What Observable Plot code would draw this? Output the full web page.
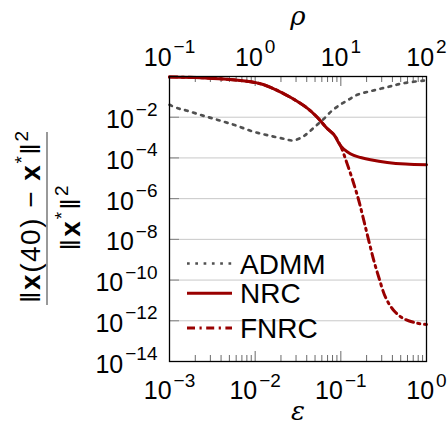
<!DOCTYPE html>
<html><head><meta charset="utf-8">
<script src="https://cdn.jsdelivr.net/npm/d3@7"></script>
<script src="https://cdn.jsdelivr.net/npm/@observablehq/plot@0.6"></script>
<style>
html,body{margin:0;padding:0;background:#fff;}
#chart{width:448px;height:426px;}
</style></head><body><div id="chart"></div>
<script>
// ---- data ----
const epsTicks = [1e-3, 1e-2, 1e-1, 1e0];
const epsTickLabels = ["10^-3", "10^-2", "10^-1", "10^0"];
const rhoTicks = [1e-1, 1e0, 1e1, 1e2];
const rhoTickLabels = ["10^-1", "10^0", "10^1", "10^2"];
const rhoPerEps = 100; // rho = 100 * eps (top axis)
const yTicks = [1e-2, 1e-4, 1e-6, 1e-8, 1e-10, 1e-12, 1e-14];
const yTickLabels = ["10^-2", "10^-4", "10^-6", "10^-8", "10^-10", "10^-12", "10^-14"];
const seriesNames = ["ADMM", "NRC", "FNRC"];

const admmEps = [1e-3, 1.25e-3, 1.57e-3, 2.45e-3, 3.84e-3, 6.0e-3, 9.2e-3, 1.44e-2, 2.16e-2, 2.75e-2, 3.54e-2, 4.23e-2, 5.06e-2, 6.32e-2, 7.93e-2, 9.9e-2, 0.124, 0.155, 0.222, 0.348, 0.543, 1.0];
const admmErr = [4.07e-2, 2.75e-2, 2.14e-2, 1.20e-2, 6.9e-3, 3.9e-3, 2.04e-3, 1.26e-3, 8.7e-4, 7.2e-4, 1.05e-3, 1.86e-3, 3.6e-3, 8.3e-3, 2.14e-2, 4.2e-2, 7.4e-2, 0.126, 0.19, 0.30, 0.47, 0.65];

const nrcEps = [1e-3, 2.3e-3, 6.75e-3, 1.15e-2, 1.65e-2, 2.58e-2, 4.05e-2, 5.3e-2, 6.93e-2, 8.28e-2, 9.9e-2, 0.1186, 0.1416, 0.17, 0.222, 0.348, 0.569, 1.0];
const nrcErr = [0.955, 0.87, 0.63, 0.44, 0.25, 0.0955, 2.8e-2, 1.0e-2, 2.8e-3, 1.41e-3, 4.0e-4, 2.0e-4, 1.32e-4, 1.05e-4, 8.1e-5, 6.0e-5, 5.0e-5, 4.6e-5];

const fnrcEps = [1e-3, 2.3e-3, 6.75e-3, 1.15e-2, 1.65e-2, 2.58e-2, 4.05e-2, 5.3e-2, 6.93e-2, 8.28e-2, 9.9e-2, 0.1186, 0.1416, 0.162, 0.1854, 0.2118, 0.2427, 0.2773, 0.3319, 0.415, 0.543, 0.778, 1.0];
const fnrcErr = [0.955, 0.87, 0.63, 0.44, 0.25, 0.0955, 2.8e-2, 1.0e-2, 2.8e-3, 1.41e-3, 4.0e-4, 5.1e-5, 5.4e-6, 8.1e-7, 8.5e-8, 8.7e-9, 9.1e-10, 1.38e-10, 1.45e-11, 3.2e-12, 1.26e-12, 7.6e-13, 6.6e-13];

// ---- build ----
const toRows = (xs, ys) => xs.map((x, i) => ({x, y: ys[i]}));
const admm = toRows(admmEps, admmErr);
const nrc = toRows(nrcEps, nrcErr);
const fnrc = toRows(fnrcEps, fnrcErr);

const W = 448, H = 426, mL = 169, mR = 22, mT = 76, mB = 65;
const pw = W - mL - mR, ph = H - mT - mB;
const FONT = "'Liberation Sans', Arial, sans-serif";
const fs = 25;
const RED = "#990000", GRAY = "#505050";
const styles = {
  ADMM: {stroke: GRAY, strokeWidth: 2.7, dash: "2.7,5.6"},
  NRC: {stroke: RED, strokeWidth: 3, dash: null},
  FNRC: {stroke: RED, strokeWidth: 3, dash: "8,4.5,2.2,4.5"}
};

const minorTicks = epsTicks.slice(0, 3).flatMap(d => [2, 3, 4, 5, 6, 7, 8, 9].map(k => k * d));
const epsLabel = new Map(epsTicks.map((d, i) => [d, epsTickLabels[i]]));
const rhoPos = rhoTicks.map(r => r / rhoPerEps);
const rhoLabel = new Map(rhoPos.map((d, i) => [d, rhoTickLabels[i]]));
const yLabel = new Map(yTicks.map((d, i) => [d, yTickLabels[i]]));

const svg = Plot.plot({
  width: W, height: H,
  marginLeft: mL, marginRight: mR, marginTop: mT, marginBottom: mB,
  style: {fontFamily: FONT, fontSize: fs + "px", background: "white", color: "black"},
  x: {type: "log", domain: [1e-3, 1]},
  y: {type: "log", domain: [1e-14, 1]},
  marks: [
    Plot.ruleY(yTicks, {stroke: "#c8c8c8", strokeWidth: 1}),
    Plot.ruleY(yTicks, {stroke: "#808080", strokeWidth: 1, insetRight: pw - 10}),
    Plot.ruleX(epsTicks, {stroke: "#6a6a6a", strokeWidth: 1, insetTop: ph - 10}),
    Plot.ruleX(epsTicks, {stroke: "#6a6a6a", strokeWidth: 1, insetBottom: ph - 10}),
    Plot.ruleX(minorTicks, {stroke: "#6a6a6a", strokeWidth: 1, insetTop: ph - 6}),
    Plot.ruleX(minorTicks, {stroke: "#6a6a6a", strokeWidth: 1, insetBottom: ph - 6}),
    Plot.line(admm, {x: "x", y: "y", stroke: styles.ADMM.stroke, strokeWidth: styles.ADMM.strokeWidth, strokeDasharray: styles.ADMM.dash, curve: "catmull-rom"}),
    Plot.line(fnrc, {x: "x", y: "y", stroke: styles.FNRC.stroke, strokeWidth: styles.FNRC.strokeWidth, strokeDasharray: styles.FNRC.dash, curve: "catmull-rom"}),
    Plot.line(nrc, {x: "x", y: "y", stroke: styles.NRC.stroke, strokeWidth: styles.NRC.strokeWidth, curve: "catmull-rom"}),
    Plot.frame({stroke: "black", strokeWidth: 1.3}),
    Plot.axisX(epsTicks, {anchor: "bottom", tickSize: 0, tickPadding: 20, tickFormat: d => epsLabel.get(d), label: null, fontSize: fs}),
    Plot.axisX(rhoPos, {anchor: "top", tickSize: 0, tickPadding: 11, tickFormat: d => rhoLabel.get(d), label: null, fontSize: fs}),
    Plot.axisY(yTicks, {anchor: "left", tickSize: 0, tickPadding: 12, tickFormat: d => yLabel.get(d), label: null, fontSize: fs, dy: 3}),
    Plot.text(["ε"], {text: d => d, frameAnchor: "bottom", dy: 58, fontStyle: "italic", fontSize: 26, fontFamily: "'DejaVu Serif', serif"}),
    Plot.text(["ρ"], {text: d => d, frameAnchor: "top", dy: -70, fontStyle: "italic", fontSize: 26, fontFamily: "'DejaVu Serif', serif"})
  ]
});
document.getElementById("chart").appendChild(svg);

// superscript exponents in tick labels
d3.select(svg).selectAll("text").each(function () {
  const m = /^10\^(.+)$/.exec(this.textContent);
  if (!m) return;
  const t = d3.select(this);
  t.text(null).style("font-size", fs + "px").style("font-family", FONT);
  t.append("tspan").style("font-size", fs + "px").text("10");
  t.append("tspan").attr("dx", 2).attr("dy", -12.5).style("font-size", "19px").text(m[1].replace("-", "\u2212"));
});

const root = d3.select(svg).append("g").attr("font-family", FONT).attr("fill", "black");

// legend (inside frame, lower left)
const legendRows = [263.5, 293.3, 328];
seriesNames.forEach((name, i) => {
  const s = styles[name];
  const y = legendRows[i];
  root.append("line").attr("x1", 187).attr("x2", 232).attr("y1", y).attr("y2", y)
    .attr("stroke", s.stroke).attr("stroke-width", s.strokeWidth)
    .attr("stroke-dasharray", s.dash);
  root.append("text").attr("x", 240).attr("y", y + 10).attr("font-size", 28)
    .attr("text-anchor", "start").text(name);
});

// y-axis label as a fraction, rotated
const num = root.append("text").attr("transform", "translate(40,217) rotate(-90)")
  .attr("text-anchor", "middle").attr("font-size", 28)
  .attr("textLength", 172).attr("lengthAdjust", "spacing");
num.append("tspan").text("\u2016");
num.append("tspan").attr("font-weight", "bold").text("x");
num.append("tspan").text("(40) \u2212 ");
num.append("tspan").attr("font-weight", "bold").text("x");
num.append("tspan").attr("font-size", 19).attr("dy", -12).text("*");
num.append("tspan").attr("dy", 12).text("\u2016");
num.append("tspan").attr("font-size", 19).attr("dy", -12).text("2");

root.append("line").attr("x1", 47).attr("x2", 47).attr("y1", 132).attr("y2", 305)
  .attr("stroke", "#555").attr("stroke-width", 1.2);

const den = root.append("text").attr("transform", "translate(80,218) rotate(-90)")
  .attr("text-anchor", "middle").attr("font-size", 28)
  .attr("textLength", 65).attr("lengthAdjust", "spacing");
den.append("tspan").text("\u2016");
den.append("tspan").attr("font-weight", "bold").text("x");
den.append("tspan").attr("font-size", 19).attr("dy", -12).text("*");
den.append("tspan").attr("dy", 12).text("\u2016");
den.append("tspan").attr("font-size", 19).attr("dy", -12).text("2");
</script></body></html>
